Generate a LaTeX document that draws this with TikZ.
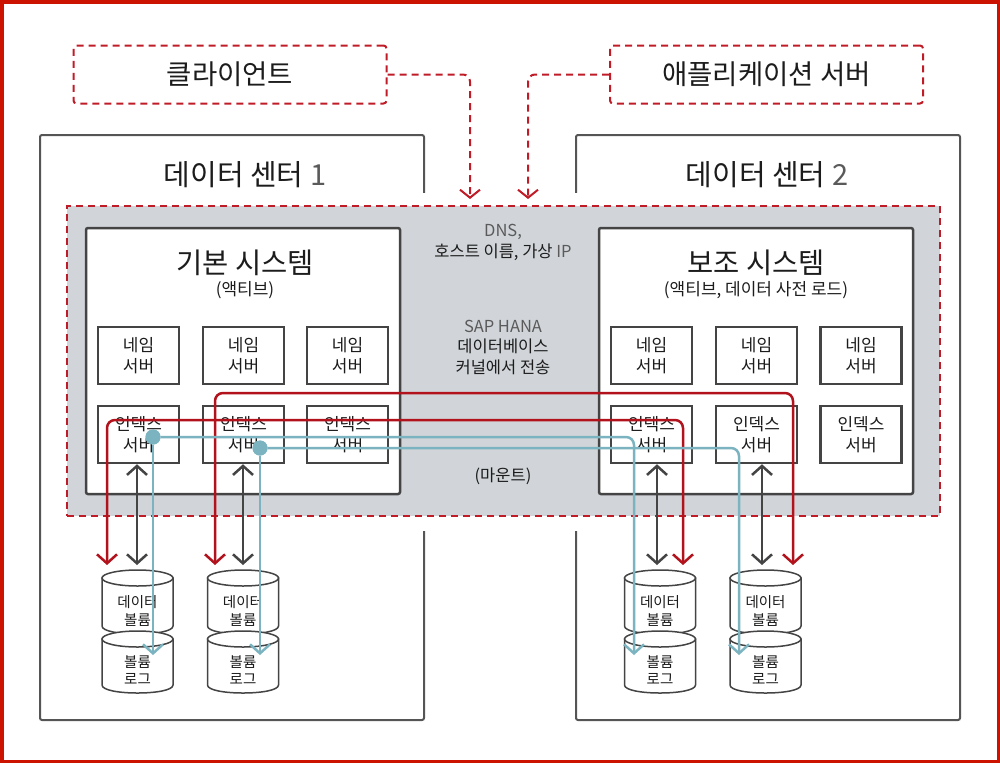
\documentclass[tikz,border=0pt]{standalone}
\usepackage{fontspec}
\setmainfont{Noto Sans CJK KR}
\usepackage{xcolor}
\usepackage{tikz}
\usetikzlibrary{positioning,arrows.meta}

\definecolor{framered}{RGB}{204,18,0}
\definecolor{hanared}{RGB}{192,28,40}
\definecolor{linered}{RGB}{178,18,28}
\definecolor{lineteal}{RGB}{123,180,192}
\definecolor{hanagray}{RGB}{209,213,217}
\definecolor{dcgray}{RGB}{85,85,85}
\definecolor{boxgray}{RGB}{68,68,68}
\definecolor{ink}{RGB}{28,28,28}
\definecolor{latin}{RGB}{90,90,90}

% one drum: centre x, top y, bottom y
\newcommand\drum[3]{%
  \filldraw[drumln] (#1-35.5,#2+8) -- (#1-35.5,#3-8)
    .. controls (#1-35.5,#3+2.67) and (#1+35.5,#3+2.67) .. (#1+35.5,#3-8)
    -- (#1+35.5,#2+8) -- cycle;
  \filldraw[drumln] (#1,#2+8) ellipse [x radius=35.5, y radius=8];
}

\begin{document}
\begin{tikzpicture}[x=1pt, y=-1pt, font=\fontsize{17}{21}\selectfont, text=ink,
  extbox/.style={draw=hanared, line width=2pt, dash pattern=on 7pt off 5pt, rounded corners=3pt,
    minimum width=313pt, minimum height=58pt, font=\fontsize{27.5}{30}\selectfont},
  extarr/.style={draw=hanared, line width=2pt, dash pattern=on 7pt off 5pt, rounded corners=7pt,
    -{Straight Barb[length=8pt, width=20pt, line width=2pt]}},
  dcbox/.style={draw=dcgray, line width=2pt, rounded corners=2pt, minimum width=384pt, minimum height=585pt},
  dctitle/.style={font=\fontsize{29}{32}\selectfont},
  hanabox/.style={draw=hanared, fill=hanagray, line width=2pt, dash pattern=on 7pt off 5pt,
    minimum width=873pt, minimum height=310pt},
  sysbox/.style={draw=boxgray, line width=2.5pt, fill=white, rounded corners=2pt,
    minimum width=314pt, minimum height=266pt},
  systitle/.style={font=\fontsize{28.5}{32}\selectfont},
  syssub/.style={font=\fontsize{17}{20}\selectfont},
  srv/.style={draw=boxgray, line width=2.5pt, fill=white, minimum width=81pt, minimum height=57pt,
    align=center, inner sep=0pt},
  hanatxt/.style={align=center, font=\fontsize{16.5}{20.5}\selectfont},
  drumtxt/.style={align=center, font=\fontsize{14.5}{17.5}\selectfont},
  drumln/.style={draw=boxgray, line width=1.5pt, fill=white},
  redln/.style={draw=linered, line width=2.5pt, rounded corners=8pt,
    {Straight Barb[length=9pt, width=20pt, line width=2.5pt]}-{Straight Barb[length=9pt, width=20pt, line width=2.5pt]}},
  tealln/.style={draw=lineteal, line width=2.5pt, rounded corners=8pt,
    -{Straight Barb[length=9pt, width=20pt, line width=2.5pt]}},
  darr/.style={draw=boxgray, line width=2.5pt,
    {Straight Barb[length=9pt, width=20pt, line width=2.5pt]}-{Straight Barb[length=9pt, width=20pt, line width=2.5pt]}},
  tdot/.style={circle, fill=lineteal, minimum size=15pt, inner sep=0pt}]
\useasboundingbox (0,0) rectangle (1000,763);
\draw[framered, line width=3.5pt] (1.75,1.75) rectangle (998.25,761.25);

% clients on top
\node[extbox] (client) at (230,74.5) {클라이언트};
\node[extbox] (appsrv) at (766.5,74.5) {애플리케이션 서버};

% data centres
\node[dcbox] (dc1) at (232,427.5) {};
\node[dcbox] (dc2) at (768,427.5) {};
\node[dctitle] (dc1t) at (245,175) {데이터 센터 {\color{latin}1}};
\node[dctitle] (dc2t) at (767,175) {데이터 센터 {\color{latin}2}};

% shared HANA area
\fill[white] (54,193) rectangle (953,531);
\node[hanabox] (hana) at (503.5,361) {};
\node[hanatxt] (dns) at (503,242.5) {{\color{latin}DNS,}\\호스트 이름, 가상 {\color{latin}IP}};
\node[hanatxt] (kern) at (503,347) {{\color{latin}SAP HANA}\\데이터베이스\\커널에서 전송};
\node[hanatxt] (mount) at (503,476) {(마운트)};

\coordinate (cin) at (470,199);
\coordinate (ain) at (528,199);
\draw[extarr] (client.east) -| (cin);
\draw[extarr] (appsrv.west) -| (ain);

% primary system
\node[sysbox] (prim) at (243,361) {};
\node[systitle] (primt) at (245,263) {기본 시스템};
\node[syssub] (prims) at (245,290) {(액티브)};
\node[srv] (nl1) at (138.5,355.5) {네임\\서버};
\node[srv] (nl2) at (243.5,355.5) {네임\\서버};
\node[srv] (nl3) at (347.5,355.5) {네임\\서버};
\node[srv] (il1) at (138.5,434.5) {인덱스\\서버};
\node[srv] (il2) at (243.5,434.5) {인덱스\\서버};
\node[srv] (il3) at (347.5,434.5) {인덱스\\서버};

% secondary system
\node[sysbox] (sec) at (756,361) {};
\node[systitle] (sect) at (756,263) {보조 시스템};
\node[syssub] (secs) at (756,290) {(액티브, 데이터 사전 로드)};
\node[srv] (nr1) at (651.5,355.5) {네임\\서버};
\node[srv] (nr2) at (756.5,355.5) {네임\\서버};
\node[srv] (nr3) at (861,355.5) {네임\\서버};
\node[srv] (ir1) at (651.5,434.5) {인덱스\\서버};
\node[srv] (ir2) at (756.5,434.5) {인덱스\\서버};
\node[srv] (ir3) at (861,434.5) {인덱스\\서버};

% volumes
\drum{137.5}{570}{634}
\drum{137.5}{631}{693}
\drum{243}{570}{634}
\drum{243}{631}{693}
\drum{660}{570}{634}
\drum{660}{631}{693}
\drum{765.5}{570}{634}
\drum{765.5}{631}{693}
\node[drumtxt] (dv1) at (137.5,611) {데이터\\볼륨};
\node[drumtxt] (lv1) at (137.5,670) {볼륨\\로그};
\node[drumtxt] (dv2) at (243,611) {데이터\\볼륨};
\node[drumtxt] (lv2) at (243,670) {볼륨\\로그};
\node[drumtxt] (dv3) at (660,611) {데이터\\볼륨};
\node[drumtxt] (lv3) at (660,670) {볼륨\\로그};
\node[drumtxt] (dv4) at (765.5,611) {데이터\\볼륨};
\node[drumtxt] (lv4) at (765.5,670) {볼륨\\로그};

% mounts to data volumes
\coordinate (d1) at (137,565);
\coordinate (d2) at (243,565);
\coordinate (d3) at (657,565);
\coordinate (d4) at (762,565);
\draw[darr] (d1) -- (d1 |- il1.south);
\draw[darr] (d2) -- (d2 |- il2.south);
\draw[darr] (d3) -- (d3 |- ir1.south);
\draw[darr] (d4) -- (d4 |- ir2.south);

% replication, data
\coordinate (r1) at (107,565);
\coordinate (r2) at (215,565);
\coordinate (r3) at (683,565);
\coordinate (r4) at (793,565);
\draw[redln] (r1) -- ++(0,-145) -| (r3);
\draw[redln] (r2) -- ++(0,-172) -| (r4);

% replication, logs
\node[tdot] (t1) at (153,437) {};
\node[tdot] (t2) at (260,448) {};
\coordinate (l1) at (153,655);
\coordinate (l2) at (260,655);
\coordinate (l3) at (634,655);
\coordinate (l4) at (739,655);
\draw[tealln] (t1) -- (l1);
\draw[tealln] (t2) -- (l2);
\draw[tealln] (t1) -| (l3);
\draw[tealln] (t2) -| (l4);
\node[tdot] at (t1) {};
\node[tdot] at (t2) {};
\end{tikzpicture}
\end{document}
